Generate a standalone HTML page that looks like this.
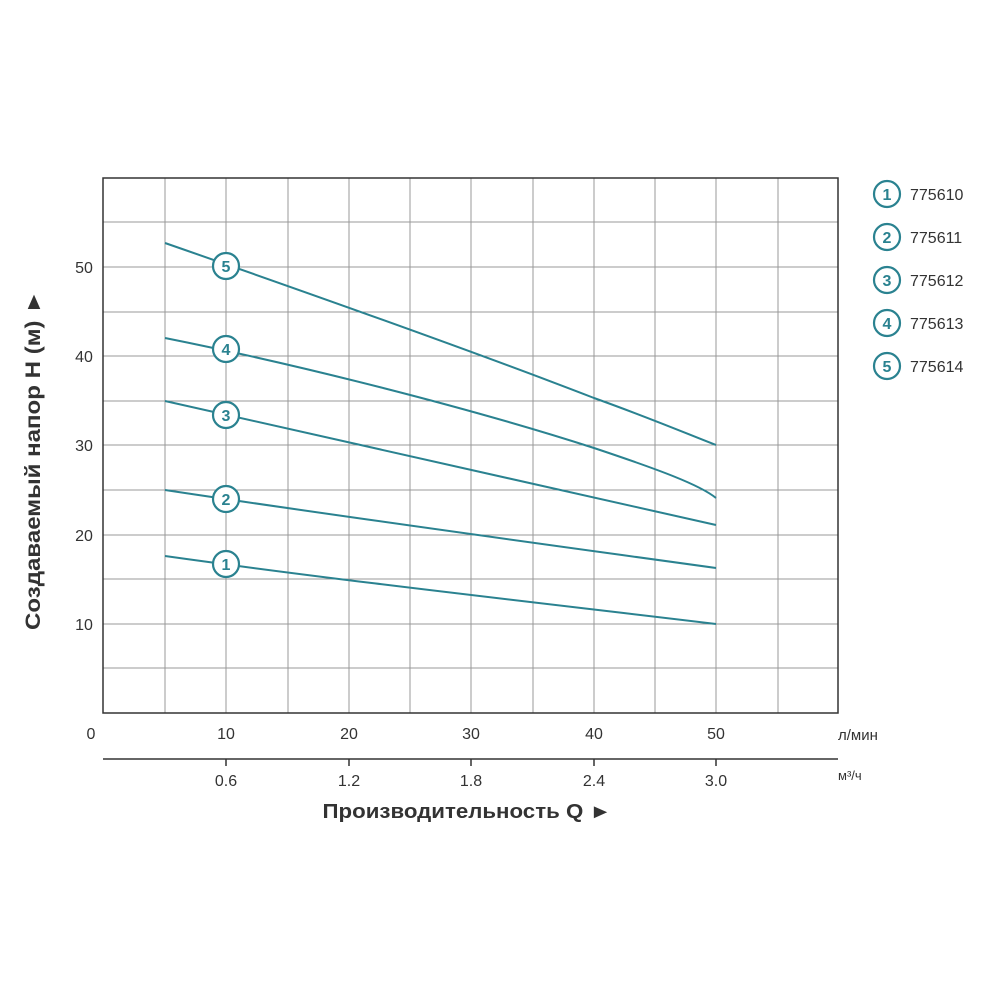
<!DOCTYPE html><html><head><style>body{margin:0;background:#fff}</style></head><body>
<svg width="1000" height="1000" xmlns="http://www.w3.org/2000/svg" font-family="Liberation Sans, sans-serif">
<rect width="1000" height="1000" fill="#fff"/>
<g stroke="#999" stroke-width="1">
<line x1="165" y1="178" x2="165" y2="713"/><line x1="226" y1="178" x2="226" y2="713"/><line x1="288" y1="178" x2="288" y2="713"/><line x1="349" y1="178" x2="349" y2="713"/><line x1="410" y1="178" x2="410" y2="713"/><line x1="471" y1="178" x2="471" y2="713"/><line x1="533" y1="178" x2="533" y2="713"/><line x1="594" y1="178" x2="594" y2="713"/><line x1="655" y1="178" x2="655" y2="713"/><line x1="716" y1="178" x2="716" y2="713"/><line x1="778" y1="178" x2="778" y2="713"/>
<line x1="103" y1="668" x2="838" y2="668"/><line x1="103" y1="624" x2="838" y2="624"/><line x1="103" y1="579" x2="838" y2="579"/><line x1="103" y1="535" x2="838" y2="535"/><line x1="103" y1="490" x2="838" y2="490"/><line x1="103" y1="445" x2="838" y2="445"/><line x1="103" y1="401" x2="838" y2="401"/><line x1="103" y1="356" x2="838" y2="356"/><line x1="103" y1="312" x2="838" y2="312"/><line x1="103" y1="267" x2="838" y2="267"/><line x1="103" y1="222" x2="838" y2="222"/>
</g>
<rect x="103" y="178" width="735" height="535" fill="none" stroke="#333" stroke-width="1.5"/>
<g stroke="#333" stroke-width="1.5"><line x1="103" y1="759" x2="838" y2="759"/>
<line x1="226" y1="759" x2="226" y2="766"/><line x1="349" y1="759" x2="349" y2="766"/><line x1="471" y1="759" x2="471" y2="766"/><line x1="594" y1="759" x2="594" y2="766"/><line x1="716" y1="759" x2="716" y2="766"/></g>
<g fill="none" stroke="#2a8290" stroke-width="2">
<path d="M165,243 C300,290 470,350 594,398 C650,418 690,435 716,445"/>
<path d="M165,338 C300,365 470,408 594,448 C660,470 700,485 716,498"/>
<path d="M165,401 C300,430 500,475 716,525"/>
<path d="M165,490 C350,518 550,545 716,568"/>
<path d="M165,556 C350,582 550,604 716,624"/>
</g>
<g font-size="16" fill="#333" text-anchor="middle">
<text x="91" y="739">0</text><text x="226" y="739">10</text><text x="349" y="739">20</text><text x="471" y="739">30</text><text x="594" y="739">40</text><text x="716" y="739">50</text>
<text x="226" y="786">0.6</text><text x="349" y="786">1.2</text><text x="471" y="786">1.8</text><text x="594" y="786">2.4</text><text x="716" y="786">3.0</text>
<text x="84" y="273">50</text><text x="84" y="362">40</text><text x="84" y="451">30</text><text x="84" y="541">20</text><text x="84" y="630">10</text>
</g>
<text x="838" y="740" font-size="15" fill="#333">л/мин</text>
<text x="838" y="780" font-size="13" fill="#333">м³/ч</text>
<text x="467" y="818" font-size="20" font-weight="bold" fill="#333" text-anchor="middle" textLength="289" lengthAdjust="spacingAndGlyphs">Производительность Q ►</text>
<text transform="translate(40,460) rotate(-90)" font-size="21" font-weight="bold" fill="#333" text-anchor="middle" textLength="340" lengthAdjust="spacingAndGlyphs">Создаваемый напор H (м) ►</text>
<g font-size="16" font-weight="bold" fill="#2a8290" text-anchor="middle">
<g><circle cx="226" cy="564" r="13" fill="#fff" stroke="#2a8290" stroke-width="2.2"/><text x="226" y="570">1</text></g>
<g><circle cx="226" cy="499" r="13" fill="#fff" stroke="#2a8290" stroke-width="2.2"/><text x="226" y="505">2</text></g>
<g><circle cx="226" cy="415" r="13" fill="#fff" stroke="#2a8290" stroke-width="2.2"/><text x="226" y="421">3</text></g>
<g><circle cx="226" cy="349" r="13" fill="#fff" stroke="#2a8290" stroke-width="2.2"/><text x="226" y="355">4</text></g>
<g><circle cx="226" cy="266" r="13" fill="#fff" stroke="#2a8290" stroke-width="2.2"/><text x="226" y="272">5</text></g>
<g><circle cx="887" cy="194" r="13" fill="#fff" stroke="#2a8290" stroke-width="2.2"/><text x="887" y="200">1</text></g>
<g><circle cx="887" cy="237" r="13" fill="#fff" stroke="#2a8290" stroke-width="2.2"/><text x="887" y="243">2</text></g>
<g><circle cx="887" cy="280" r="13" fill="#fff" stroke="#2a8290" stroke-width="2.2"/><text x="887" y="286">3</text></g>
<g><circle cx="887" cy="323" r="13" fill="#fff" stroke="#2a8290" stroke-width="2.2"/><text x="887" y="329">4</text></g>
<g><circle cx="887" cy="366" r="13" fill="#fff" stroke="#2a8290" stroke-width="2.2"/><text x="887" y="372">5</text></g>
</g>
<g font-size="16" fill="#333">
<text x="910" y="200">775610</text><text x="910" y="243">775611</text><text x="910" y="286">775612</text><text x="910" y="329">775613</text><text x="910" y="372">775614</text>
</g>
</svg></body></html>
